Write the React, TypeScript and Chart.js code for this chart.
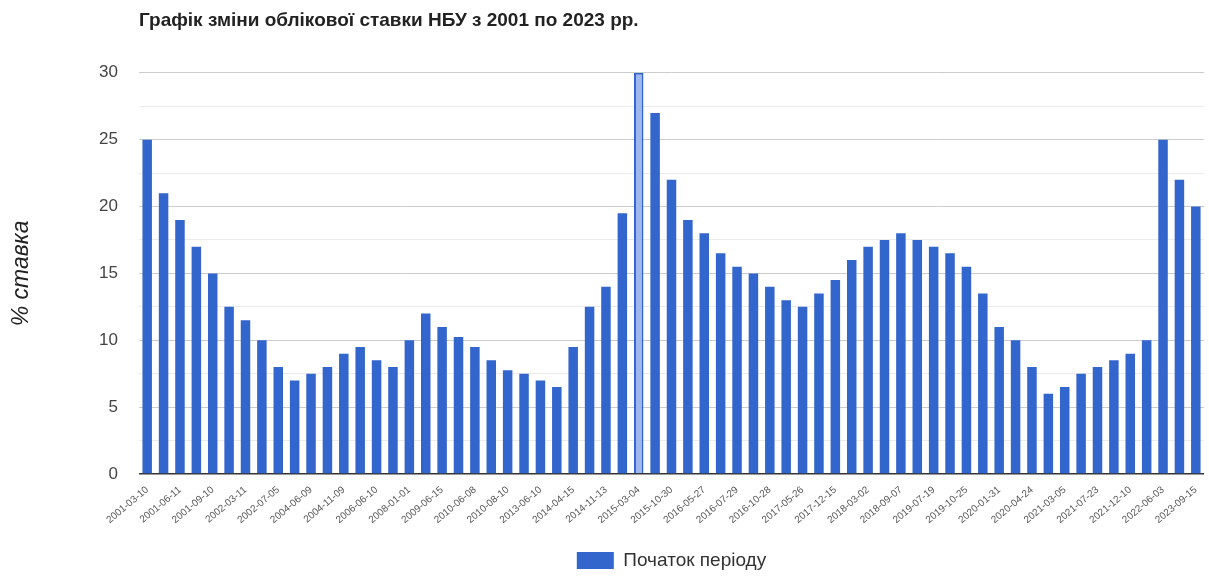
import React, { useEffect, useRef } from "react";
import { Chart, registerables } from "chart.js";

Chart.register(...registerables);

// Visible tick labels (every other period start)
const periodStartLabels: string[] = [
  "2001-03-10", "2001-06-11", "2001-09-10", "2002-03-11", "2002-07-05",
  "2004-06-09", "2004-11-09", "2006-06-10", "2008-01-01", "2009-06-15",
  "2010-06-08", "2010-08-10", "2013-06-10", "2014-04-15", "2014-11-13",
  "2015-03-04", "2015-10-30", "2016-05-27", "2016-07-29", "2016-10-28",
  "2017-05-26", "2017-12-15", "2018-03-02", "2018-09-07", "2019-07-19",
  "2019-10-25", "2020-01-31", "2020-04-24", "2021-03-05", "2021-07-23",
  "2021-12-10", "2022-06-03", "2023-09-15",
];

// NBU discount rate, %, for each period
const rates: number[] = [
  25, 21, 19, 17, 15, 12.5, 11.5, 10, 8, 7,
  7.5, 8, 9, 9.5, 8.5, 8, 10, 12, 11, 10.25,
  9.5, 8.5, 7.75, 7.5, 7, 6.5, 9.5, 12.5, 14, 19.5,
  30, 27, 22, 19, 18, 16.5, 15.5, 15, 14, 13,
  12.5, 13.5, 14.5, 16, 17, 17.5, 18, 17.5, 17, 16.5,
  15.5, 13.5, 11, 10, 8, 6, 6.5, 7.5, 8, 8.5,
  9, 10, 25, 22, 20,
];

// categories: every period; only every other one carries a readable label
const categories: string[] = rates.map((_, i) =>
  i % 2 === 0 ? periodStartLabels[i / 2] ?? "" : ""
);

const yTicks: number[] = [0, 5, 10, 15, 20, 25, 30];

const TITLE = "Графік зміни облікової ставки НБУ з 2001 по 2023 рр.";
const Y_TITLE = "% ставка";
const SERIES = "Початок періоду";

const FONT = "'Liberation Sans', Arial, sans-serif";
const BLUE = "#3366cc";
const highlightIndex = rates.indexOf(Math.max(...rates));

export default function App() {
  const ref = useRef<HTMLCanvasElement | null>(null);

  useEffect(() => {
    if (!ref.current) return;
    const chart = new Chart(ref.current, {
      type: "bar",
      data: {
        labels: categories,
        datasets: [
          {
            label: SERIES,
            data: rates,
            backgroundColor: (ctx: any) =>
              ctx.dataIndex === highlightIndex ? "#9fb6ee" : BLUE,
            borderColor: BLUE,
            borderWidth: (ctx: any) => (ctx.dataIndex === highlightIndex ? 2 : 0),
            categoryPercentage: 1,
            barPercentage: 0.58,
          },
        ],
      },
      options: {
        responsive: false,
        animation: false,
        layout: { padding: { left: 0, right: 5, top: 0, bottom: 0 } },
        plugins: {
          title: {
            display: true,
            text: TITLE,
            align: "start",
            fullSize: false,
            color: "#222",
            font: { family: FONT, size: 19, weight: "bold" },
            padding: { top: 9, bottom: 41 },
          },
          legend: {
            display: true,
            position: "bottom",
            fullSize: false,
            labels: {
              boxWidth: 37,
              boxHeight: 17,
              color: "#333",
              font: { family: FONT, size: 19 },
              padding: 9,
            },
          },
          tooltip: { enabled: false },
        },
        scales: {
          x: {
            grid: { display: false },
            border: { display: false },
            ticks: {
              autoSkip: false,
              maxRotation: 40,
              minRotation: 40,
              color: "#555",
              padding: 2,
              font: { family: FONT, size: 10 },
            },
            afterFit: (scale: any) => {
              scale.height = 68;
            },
          },
          y: {
            min: 0,
            max: 30,
            border: { display: false },
            grid: {
              drawTicks: false,
              color: (ctx: any) => {
                const v = ctx.tick?.value;
                if (v === 0) return "#333333";
                return yTicks.includes(v) ? "#cccccc" : "#ebebeb";
              },
              lineWidth: (ctx: any) => (ctx.tick?.value === 0 ? 1.5 : 1),
            },
            ticks: {
              stepSize: 2.5,
              padding: 21,
              color: "#444",
              font: { family: FONT, size: 17 },
              callback: (v: any) => (yTicks.includes(Number(v)) ? String(v) : ""),
            },
            title: {
              display: true,
              text: Y_TITLE,
              color: "#222",
              font: { family: FONT, size: 23, style: "italic" },
              padding: { top: 8, bottom: 0 },
            },
            afterFit: (scale: any) => {
              scale.width = 139;
            },
          },
        },
      },
    });
    return () => chart.destroy();
  }, []);

  return (
    <div style={{ position: "absolute", left: 0, top: 0, width: 1209, height: 580, background: "#fff" }}>
      <canvas ref={ref} width={1209} height={580} style={{ width: 1209, height: 580 }} />
    </div>
  );
}
